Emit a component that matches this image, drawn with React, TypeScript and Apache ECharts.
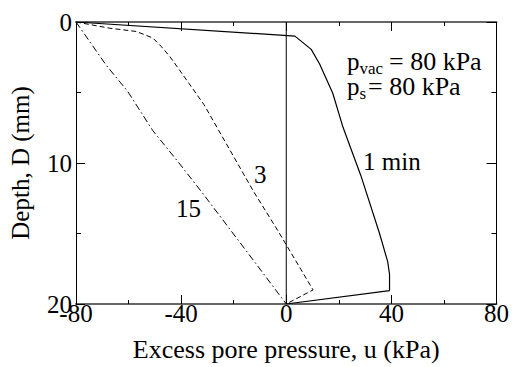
import React, { useEffect, useRef } from "react";
import * as echarts from "echarts";

const FONT = "serif";

// 1 min (solid)
const u1 = [-80, 3.3, 9.5, 12.7, 17.7, 21.6, 28.4, 35.5, 38.6, 39.3, 39.3, 0];
const d1 = [0, 1.0, 1.94, 2.98, 5.05, 7.47, 10.9, 15.0, 17.0, 17.9, 19.05, 20];
// 3 min (dashed)
const u3 = [-80, -67.2, -57.1, -50.8, -47.7, -44.5, -41.4, -31.3, -12.5, -3.0, 10.2, 0];
const d3 = [0, 0.44, 0.67, 1.13, 1.71, 2.4, 3.2, 5.86, 12.0, 14.86, 19.0, 20];
// 15 min (dash-dot)
const u15 = [-80, -68.4, -60.3, -50.8, -40.8, -32.0, -12.1, 0];
const d15 = [0, 3.09, 4.93, 7.7, 10.0, 12.1, 17.0, 20];
// zero line
const u0 = [0, 0];
const d0 = [0, 20];

const pairs = (u: number[], d: number[]) => u.map((v, i) => [v, d[i]]);

export default function App() {
  const ref = useRef<HTMLDivElement>(null);
  useEffect(() => {
    document.body.style.margin = "0";
    const chart = echarts.init(ref.current!, undefined, { renderer: "svg" });
    const tickStyle = { color: "#000", width: 1 };
    const lineAxis = { onZero: false, lineStyle: { color: "#000", width: 1 } };
    const lineAxisH = { onZero: false, lineStyle: { color: "#666", width: 2 } };
    const lbl = { fontFamily: FONT, color: "#000" };
    const g = (text: string, left: number, top: number, fontSize: number, lineHeight: number) => ({
      type: "text", left, top,
      style: { text, fontFamily: FONT, fontSize, lineHeight, fill: "#000" },
    });
    chart.setOption({
      animation: false,
      grid: { left: 76, top: 22, width: 424, height: 289 },
      xAxis: [
        {
          type: "value", min: -80, max: 80, interval: 40, position: "bottom",
          axisLine: lineAxisH,
          axisTick: { inside: true, length: 9, lineStyle: tickStyle },
          minorTick: { show: true, splitNumber: 2, length: 4, lineStyle: tickStyle },
          splitLine: { show: false },
          axisLabel: { ...lbl, fontSize: 25, margin: -3 },
          name: "Excess pore pressure, u (kPa)",
          nameLocation: "middle", nameGap: 32,
          nameTextStyle: { ...lbl, fontSize: 26 },
        },
        {
          type: "value", min: -80, max: 80, interval: 40, position: "top",
          axisLine: lineAxisH,
          axisTick: { inside: true, length: 9, lineStyle: tickStyle },
          minorTick: { show: true, splitNumber: 2, length: 4, lineStyle: tickStyle },
          splitLine: { show: false },
          axisLabel: { show: false },
        },
      ],
      yAxis: [
        {
          type: "value", min: 0, max: 20, interval: 10, inverse: true, position: "left",
          axisLine: lineAxis,
          axisTick: { inside: true, length: 9, lineStyle: tickStyle },
          minorTick: { show: true, splitNumber: 2, length: 5, lineStyle: tickStyle },
          splitLine: { show: false },
          axisLabel: { ...lbl, fontSize: 25, margin: 4 },
          name: "Depth, D (mm)",
          nameLocation: "middle", nameGap: 43,
          nameTextStyle: { ...lbl, fontSize: 25 },
        },
        {
          type: "value", min: 0, max: 20, interval: 10, inverse: true, position: "right",
          axisLine: lineAxis,
          axisTick: { inside: true, length: 10, lineStyle: tickStyle },
          minorTick: { show: true, splitNumber: 2, length: 5, lineStyle: tickStyle },
          splitLine: { show: false },
          axisLabel: { show: false },
        },
      ],
      series: [
        {
          type: "line", data: pairs(u0, d0), showSymbol: false, symbol: "none",
          lineStyle: { color: "#000", width: 1 }, silent: true,
        },
        {
          type: "line", name: "1 min", data: pairs(u1, d1), showSymbol: false, symbol: "none",
          lineStyle: { color: "#000", width: 1.2 },
        },
        {
          type: "line", name: "3", data: pairs(u3, d3), showSymbol: false, symbol: "none",
          lineStyle: { color: "#000", width: 1, type: [5, 3] },
        },
        {
          type: "line", name: "15", data: pairs(u15, d15), showSymbol: false, symbol: "none",
          lineStyle: { color: "#000", width: 1, type: [7, 3, 1.5, 3] },
        },
      ],
      graphic: [
        g("p", 347, 48.6, 25, 20),
        g("vac", 359.5, 60.3, 17, 12),
        g("= 80 kPa", 389, 48, 26, 20),
        g("p", 347, 73.6, 25, 20),
        g("s", 359.5, 85.3, 17, 12),
        g("= 80 kPa", 368, 73.6, 26, 20),
        g("1 min", 363, 149, 25, 25),
        g("3", 254, 162, 25, 25),
        g("15", 176, 196, 25, 25),
      ],
    });
    return () => chart.dispose();
  }, []);
  return <div ref={ref} style={{ width: 512, height: 367 }} />;
}
